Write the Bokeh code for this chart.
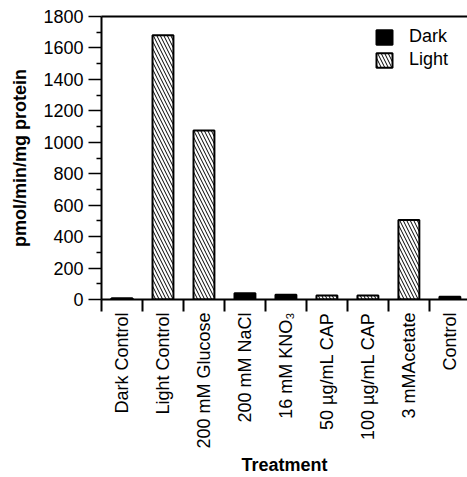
import math
from bokeh.plotting import figure
from bokeh.models import FixedTicker, LinearAxis, Range1d
from bokeh.embed import file_html
from bokeh.resources import INLINE

# ---- data ----
categories = ["Dark Control", "Light Control", "200 mM Glucose", "200 mM NaCl",
              "16 mM KNO\u2083", "50 \u00b5g/mL CAP", "100 \u00b5g/mL CAP",
              "3 mMAcetate", "Control"]
conditions = ["Dark", "Light", "Light", "Dark", "Dark", "Light", "Light", "Light", "Dark"]
values = [8, 1680, 1075, 40, 30, 25, 25, 505, 17]
y_ticks = [0, 200, 400, 600, 800, 1000, 1200, 1400, 1600, 1800]
y_minor_ticks = [100, 300, 500, 700, 900, 1100, 1300, 1500, 1700]
series = ["Dark", "Light"]

FONT = "Liberation Sans"

p = figure(width=467, height=477, output_backend="svg", toolbar_location=None,
           x_range=Range1d(0, 8.93), y_range=Range1d(0, 1800),
           min_border_left=101, min_border_right=0, min_border_top=16,
           min_border_bottom=176)
p.outline_line_color = None
p.xgrid.visible = False
p.ygrid.visible = False
p.background_fill_color = "white"

for s in series:
    xs = [i + 0.5 for i, c in enumerate(conditions) if c == s]
    tops = [v for v, c in zip(values, conditions) if c == s]
    if s == "Dark":
        p.vbar(x=xs, top=tops, bottom=0, width=0.51, fill_color="black",
               line_color="black", line_width=2, legend_label=s)
    else:
        p.vbar(x=xs, top=tops, bottom=0, width=0.51, fill_color="white",
               hatch_pattern="\\", hatch_color="black", hatch_scale=7,
               hatch_weight=1, line_color="black", line_width=2, legend_label=s)

xa = p.below[0]
ya = p.left[0]

# top line
top_axis = LinearAxis(ticker=FixedTicker(ticks=[]), axis_line_width=2,
                      axis_line_color="black", major_label_text_font_size="0px",
                      major_tick_line_color=None, minor_tick_line_color=None)
p.add_layout(top_axis, "above")

# x axis
xa.ticker = FixedTicker(ticks=[i + 0.5 for i in range(len(categories))],
                        minor_ticks=list(range(len(categories) + 1)))
xa.major_label_overrides = {i + 0.5: c for i, c in enumerate(categories)}
xa.major_label_orientation = math.pi / 2
xa.major_tick_line_color = None
xa.major_tick_out = 11
xa.major_tick_in = 0
xa.major_label_standoff = 1
xa.minor_tick_out = 12
xa.minor_tick_in = 0
xa.minor_tick_line_width = 2
xa.minor_tick_line_color = "black"
xa.axis_line_width = 2
xa.axis_line_color = "black"
xa.major_label_text_font = FONT
xa.major_label_text_font_size = "18px"
xa.major_label_text_color = "black"
xa.axis_label = "Treatment"
xa.axis_label_text_font = FONT
xa.axis_label_text_font_style = "bold"
xa.axis_label_text_font_size = "18px"
xa.axis_label_text_color = "black"
xa.axis_label_standoff = 3

# y axis
ya.ticker = FixedTicker(ticks=y_ticks, minor_ticks=y_minor_ticks)
ya.major_tick_out = 13
ya.major_tick_in = 0
ya.minor_tick_out = 5
ya.minor_tick_in = 0
ya.major_tick_line_width = 1.5
ya.minor_tick_line_width = 1.5
ya.major_tick_line_color = "black"
ya.minor_tick_line_color = "black"
ya.axis_line_width = 2
ya.axis_line_color = "black"
ya.major_label_standoff = 5
ya.major_label_text_font = FONT
ya.major_label_text_font_size = "18px"
ya.major_label_text_color = "black"
ya.axis_label = "pmol/min/mg protein"
ya.axis_label_text_font = FONT
ya.axis_label_text_font_style = "bold"
ya.axis_label_text_font_size = "18px"
ya.axis_label_text_color = "black"
ya.axis_label_standoff = 10

# legend
lg = p.legend[0]
lg.location = (273, 229)
lg.border_line_color = None
lg.background_fill_alpha = 0
lg.label_text_font = FONT
lg.label_text_font_size = "18px"
lg.label_text_color = "black"
lg.glyph_width = 20
lg.glyph_height = 18
lg.label_height = 18
lg.label_standoff = 15
lg.spacing = 2
lg.padding = 8
lg.margin = 0

open("out.html", "w").write(file_html(p, INLINE))
